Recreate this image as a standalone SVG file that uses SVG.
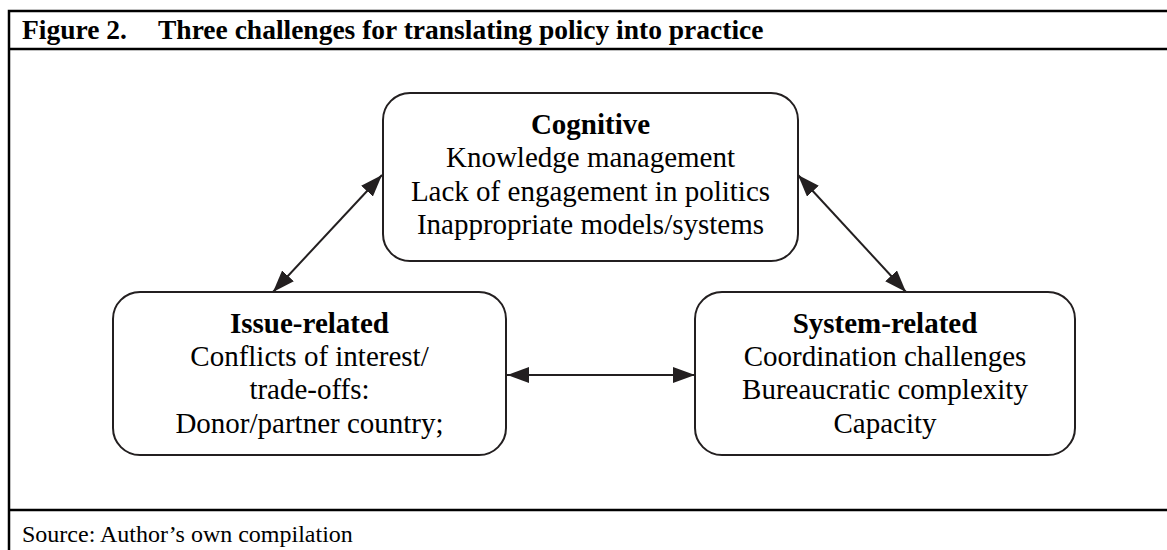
<svg xmlns="http://www.w3.org/2000/svg" width="1167" height="550" viewBox="0 0 1167 550">
<defs>
<style>
.frame{fill:none;stroke:#000;stroke-width:2.5}
.box{fill:#fff;stroke:#231f20;stroke-width:2}
.t{font-family:"Liberation Serif","Times New Roman",serif;font-size:29px;fill:#000;text-anchor:middle}
.b{font-weight:bold}
.title{font-family:"Liberation Serif","Times New Roman",serif;font-size:27.5px;font-weight:bold;fill:#000}
.src{font-family:"Liberation Serif","Times New Roman",serif;font-size:24px;fill:#000}
.conn{stroke:#231f20;stroke-width:2;fill:none;marker-start:url(#ah);marker-end:url(#ah)}
</style>
<marker id="ah" viewBox="0 0 22 16" refX="22" refY="8" markerWidth="22" markerHeight="16" markerUnits="userSpaceOnUse" orient="auto-start-reverse">
<path d="M0,0 L22,8 L0,16 z" fill="#231f20"/>
</marker>
</defs>
<rect width="1167" height="550" fill="#fff"/>
<g id="frame">
<path class="frame" d="M1170,11 H9 V552 M9,49 H1170 M9,510 H1170"/>
<text class="title" x="22" y="39">Figure 2.</text>
<text class="title" x="158" y="39">Three challenges for translating policy into practice</text>
<text class="src" x="22" y="542">Source: Author’s own compilation</text>
</g>
<g id="connectors">
<line class="conn" x1="382" y1="175" x2="273" y2="292"/>
<line class="conn" x1="798" y1="175" x2="906" y2="292"/>
<line class="conn" x1="507" y1="375" x2="695" y2="375"/>
</g>
<g id="cognitive">
<rect class="box" x="383" y="93" width="415" height="168" rx="27"/>
<text class="t b" x="590.5" y="134">Cognitive</text>
<text class="t" x="590.5" y="167">Knowledge management</text>
<text class="t" x="590.5" y="201">Lack of engagement in politics</text>
<text class="t" x="590.5" y="234">Inappropriate models/systems</text>
</g>
<g id="issue">
<rect class="box" x="113" y="292" width="393" height="163" rx="27"/>
<text class="t b" x="309.5" y="333">Issue-related</text>
<text class="t" x="309.5" y="366">Conflicts of interest/</text>
<text class="t" x="309.5" y="399">trade-offs:</text>
<text class="t" x="309.5" y="433">Donor/partner country;</text>
</g>
<g id="system">
<rect class="box" x="695" y="292" width="380" height="163" rx="27"/>
<text class="t b" x="885" y="333">System-related</text>
<text class="t" x="885" y="366">Coordination challenges</text>
<text class="t" x="885" y="399">Bureaucratic complexity</text>
<text class="t" x="885" y="433">Capacity</text>
</g>
</svg>
